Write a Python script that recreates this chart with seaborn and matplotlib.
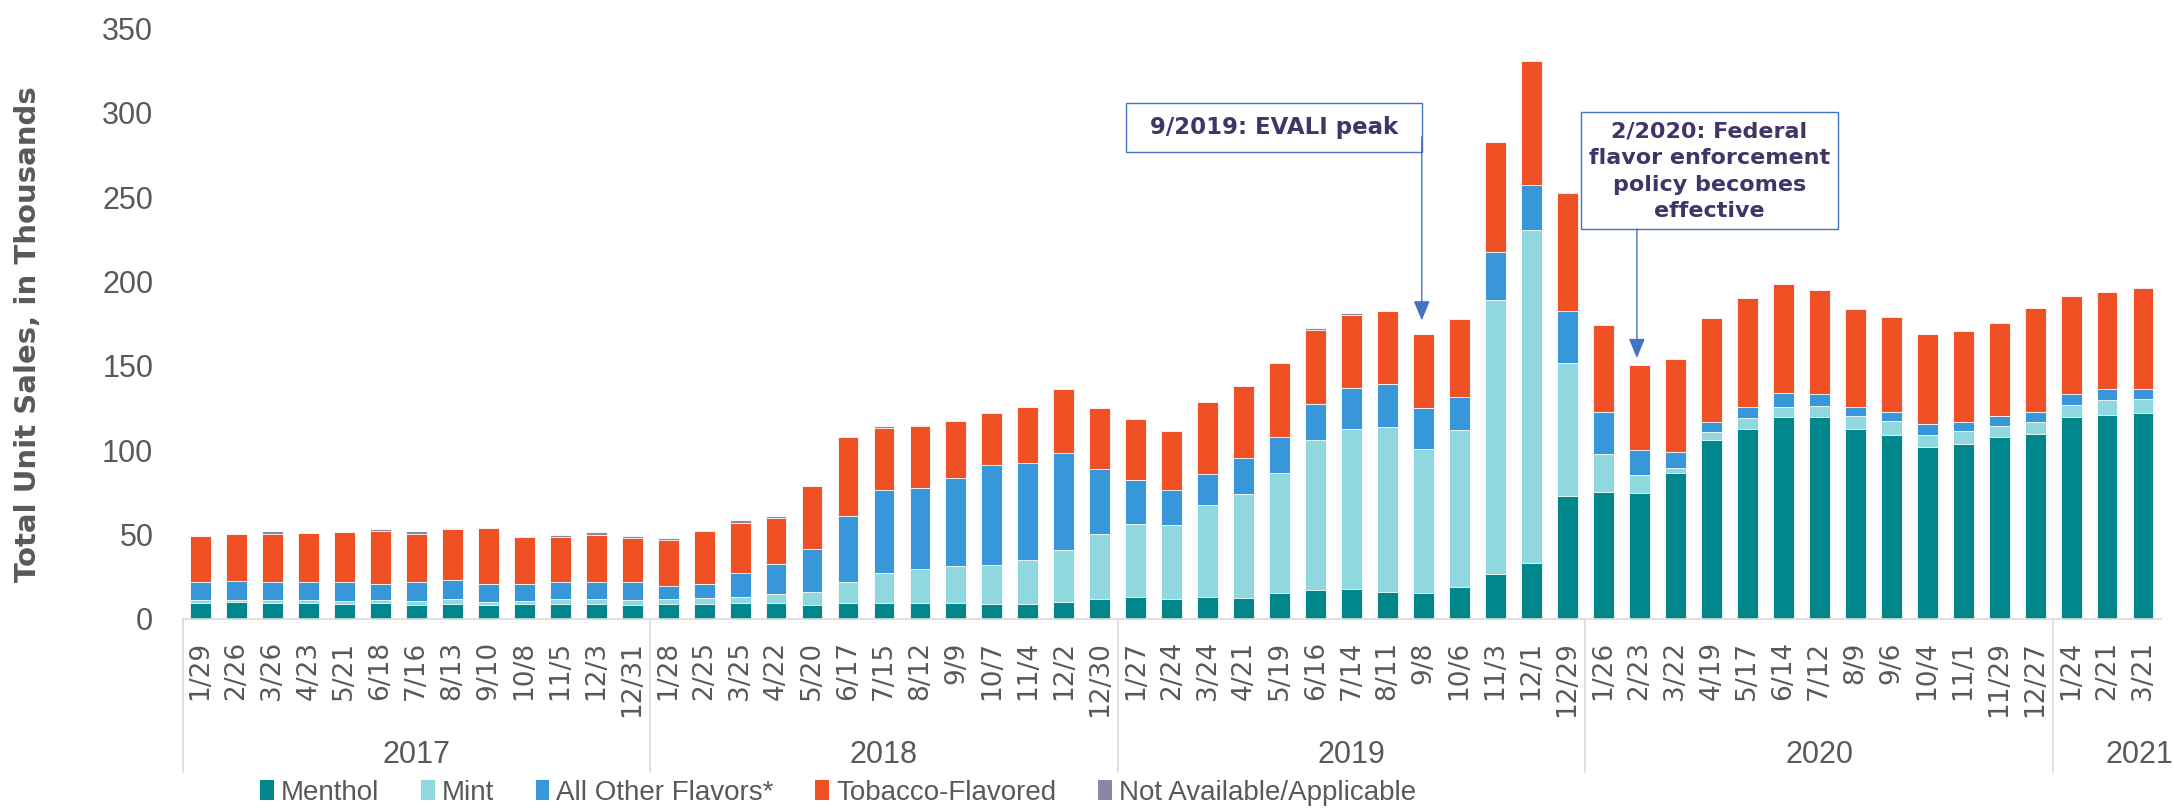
import numpy as np
import pandas as pd
import seaborn as sns
import matplotlib
matplotlib.use("Agg")
import matplotlib.pyplot as plt
from matplotlib.patches import Patch, Rectangle
from matplotlib.lines import Line2D

# weeks (4-week periods ending on these dates)
years = ["2017"] * 13 + ["2018"] * 13 + ["2019"] * 13 + ["2020"] * 13 + ["2021"] * 3
dates = ["1/29", "2/26", "3/26", "4/23", "5/21", "6/18", "7/16", "8/13", "9/10", "10/8", "11/5", "12/3", "12/31",
         "1/28", "2/25", "3/25", "4/22", "5/20", "6/17", "7/15", "8/12", "9/9", "10/7", "11/4", "12/2", "12/30",
         "1/27", "2/24", "3/24", "4/21", "5/19", "6/16", "7/14", "8/11", "9/8", "10/6", "11/3", "12/1", "12/29",
         "1/26", "2/23", "3/22", "4/19", "5/17", "6/14", "7/12", "8/9", "9/6", "10/4", "11/1", "11/29", "12/27",
         "1/24", "2/21", "3/21"]

# unit sales in thousands
menthol = [9.7, 9.8, 9.7, 9.7, 9.1, 9.7, 8.1, 9.1, 8.1, 8.7, 9.1, 9.1, 8.5,
           8.7, 9.1, 9.5, 9.5, 8.5, 9.7, 9.7, 9.3, 9.7, 9.1, 9.1, 10.0, 11.6,
           13.2, 12.1, 13.1, 12.7, 15.4, 17.0, 17.5, 15.8, 15.3, 19.0, 26.7, 33.0, 73.1,
           75.3, 74.5, 86.4, 106.1, 112.8, 119.5, 119.9, 112.6, 109.1, 102.2, 103.7, 107.6, 109.4,
           119.8, 120.9, 122.0]
mint = [1.5, 1.6, 1.3, 1.5, 1.5, 1.5, 2.3, 2.5, 2.1, 2.1, 2.7, 2.7, 2.7,
        2.9, 3.1, 3.7, 5.1, 7.7, 12.4, 17.3, 20.1, 21.5, 22.7, 26.0, 31.1, 38.6,
        42.9, 43.6, 54.5, 61.3, 71.1, 89.1, 95.3, 97.8, 85.3, 93.0, 162.4, 197.6, 78.8,
        22.5, 10.6, 3.1, 4.8, 6.3, 6.0, 6.6, 7.9, 8.3, 6.7, 7.5, 6.7, 7.5,
        7.3, 8.7, 8.4]
other = [10.9, 11.3, 10.9, 10.7, 11.3, 9.7, 11.5, 11.7, 10.7, 9.9, 10.3, 9.9, 10.5,
         8.1, 8.7, 13.8, 18.2, 25.3, 39.1, 49.2, 48.4, 52.5, 59.5, 57.1, 57.5, 38.5,
         26.3, 20.8, 18.5, 21.3, 21.1, 21.2, 24.0, 25.7, 24.2, 19.4, 28.2, 26.8, 30.7,
         24.7, 14.9, 9.6, 6.0, 6.4, 8.3, 6.7, 5.2, 5.3, 6.5, 5.7, 6.0, 5.9,
         6.5, 6.8, 6.0]
tobacco = [27.1, 27.7, 28.7, 29.0, 29.6, 31.4, 28.7, 30.2, 33.2, 28.1, 26.5, 28.1, 26.1,
           26.9, 31.0, 29.9, 27.0, 37.3, 46.8, 37.2, 36.6, 33.9, 30.6, 33.3, 37.6, 36.4,
           36.2, 34.9, 42.7, 43.0, 44.0, 44.0, 43.4, 43.3, 43.9, 46.2, 65.6, 73.5, 69.7,
           51.5, 50.4, 54.9, 61.7, 64.5, 64.8, 61.6, 58.3, 56.5, 53.5, 53.8, 55.0, 61.4,
           57.7, 57.7, 59.7]
not_avail = [0, 0, 1.3, 0, 0, 1.2, 1.3, 0.4, 0, 0, 1.4, 1.7, 1.4,
             1.4, 0, 1.6, 1.2, 0, 0, 1.0, 0.3, 0, 0, 0, 0, 0,
             0, 0, 0, 0, 0, 1.0, 1.2, 0, 0, 0, 0, 0, 0,
             0, 0, 0, 0, 0, 0, 0, 0, 0, 0, 0, 0, 0,
             0, 0, 0]

series_names = ["Menthol", "Mint", "All Other Flavors*", "Tobacco-Flavored", "Not Available/Applicable"]
colors = ["#00868B", "#8ED8DE", "#3797D8", "#EF5024", "#8B86A6"]

df = pd.DataFrame({"year": years, "date": dates, "Menthol": menthol, "Mint": mint,
                   "All Other Flavors*": other, "Tobacco-Flavored": tobacco,
                   "Not Available/Applicable": not_avail})
df["week"] = df["year"] + " " + df["date"]

gray = "#595959"
narrow = ["Liberation Sans Narrow", "Liberation Sans", "DejaVu Sans"]

sns.set_theme(style="white")
plt.rcParams["font.family"] = ["DejaVu Sans"]

fig = plt.figure(figsize=(21.74, 8.09), dpi=100)
ax = fig.add_axes([0.08395, 0.23486, 0.91007, 0.72991])

# stacked bars: draw cumulative totals from the top series down
cum = df[series_names].cumsum(axis=1)
for name, col in reversed(list(zip(series_names, colors))):
    sns.barplot(data=cum.assign(week=df["week"]), x="week", y=name, color=col,
                saturation=1, width=0.58, edgecolor="white", linewidth=0.6, ax=ax)

ax.set_xlim(-0.5, len(df) - 0.5)
ax.set_ylim(0, 350)
ax.set_yticks(range(0, 351, 50))
ax.set_xlabel("")
ax.set_ylabel("")
for s in ["top", "right", "left"]:
    ax.spines[s].set_visible(False)
ax.spines["bottom"].set_color("#D9D9D9")
ax.spines["bottom"].set_linewidth(1.2)

ax.set_xticks(range(len(df)))
ax.set_xticklabels(df["date"], rotation=90, fontsize=19, color=gray)
ax.tick_params(axis="x", length=0, pad=16)
ax.tick_params(axis="y", length=0, pad=21)
for lab in ax.get_yticklabels():
    lab.set_family(narrow)
    lab.set_fontsize(22)
    lab.set_color(gray)

# year group separators and labels
trans = ax.get_xaxis_transform()
bounds = [-0.5] + [i - 0.5 for i in range(1, len(df)) if years[i] != years[i - 1]]
for b in bounds:
    ax.add_line(Line2D([b, b], [0, -0.259], transform=trans, color="#D9D9D9", lw=1.2, clip_on=False))
year_names = list(dict.fromkeys(years))
for yname in year_names:
    idx = [i for i, y in enumerate(years) if y == yname]
    xc = (idx[0] + idx[-1]) / 2
    if len(idx) < 5:
        xc += 0.9
    ax.text(xc, -0.231, yname, transform=trans, ha="center", va="center",
            fontsize=22, color=gray, family=narrow)

fig.text(28 / 2174, 1 - 334 / 809, "Total Unit Sales, in Thousands", rotation=90,
         ha="center", va="center", fontsize=21, fontweight="bold", color=gray)

# annotations
box_col = "#4472C4"
txt_col = "#3D3667"
ax.add_patch(Rectangle((25.73, 276.8), 8.23, 29.1, fill=False, edgecolor=box_col, lw=1.0, zorder=5))
ax.text(29.84, 291.3, "9/2019: EVALI peak", ha="center", va="center", fontsize=16.5,
        fontweight="bold", color=txt_col, zorder=6)
ax.annotate("", xy=(33.95, 177), xytext=(33.95, 285.7),
            arrowprops=dict(arrowstyle="-|>,head_length=0.6,head_width=0.25", color=box_col,
                            lw=1.0, mutation_scale=20, shrinkA=0, shrinkB=0))

ax.add_patch(Rectangle((38.37, 231.2), 7.16, 69.2, fill=False, edgecolor=box_col, lw=1.0, zorder=5))
ax.text(41.95, 265.3, "2/2020: Federal\nflavor enforcement\npolicy becomes\neffective",
        ha="center", va="center", fontsize=16, fontweight="bold", color=txt_col,
        linespacing=1.4, zorder=6)
ax.annotate("", xy=(39.93, 154.7), xytext=(39.93, 231.2),
            arrowprops=dict(arrowstyle="-|>,head_length=0.6,head_width=0.25", color=box_col,
                            lw=1.0, mutation_scale=20, shrinkA=0, shrinkB=0))

handles = [Patch(facecolor=c, edgecolor="none") for c in colors]
fig.legend(handles, series_names, loc="center", bbox_to_anchor=(838 / 2174, 1 - 793 / 809),
           ncol=5, frameon=False, prop={"family": narrow, "size": 20}, labelcolor=gray,
           handlelength=0.5, handleheight=0.75, handletextpad=0.25, columnspacing=1.5,
           borderaxespad=0, borderpad=0)

fig.savefig("out.png", dpi=100)
